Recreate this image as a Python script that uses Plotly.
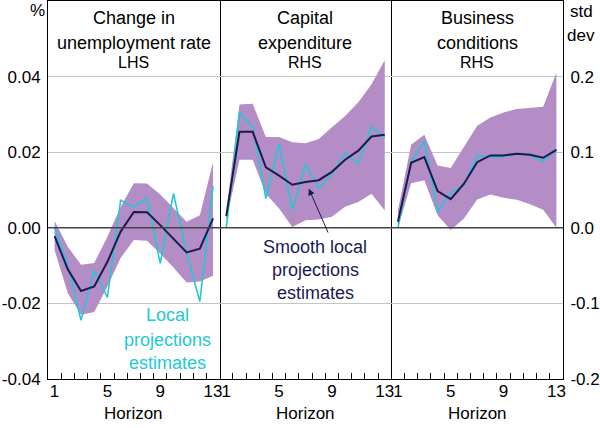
import plotly.graph_objects as go

horizon = list(range(1, 14))

# Panel 1: Change in unemployment rate (LHS, %)
unemp_smooth = [-0.0022, -0.011, -0.0167, -0.0155, -0.009, -0.001, 0.0042, 0.0041, 0.0007, -0.003, -0.0065, -0.0055, 0.0025]
unemp_local = [0.0, -0.010, -0.0245, -0.0113, -0.0184, 0.0073, 0.0055, 0.0078, -0.0094, 0.0091, -0.0067, -0.0195, 0.011]
unemp_upper = [0.0018, -0.005, -0.0098, -0.0093, -0.0024, 0.0055, 0.0118, 0.0117, 0.0088, 0.0053, 0.0016, 0.0033, 0.0174]
unemp_lower = [-0.0059, -0.0173, -0.023, -0.0223, -0.0155, -0.008, -0.0032, -0.0034, -0.0068, -0.0105, -0.0145, -0.0142, -0.0127]

# Panel 2: Capital expenditure (RHS, std dev)
capex_smooth = [0.0154, 0.127, 0.127, 0.080, 0.069, 0.057, 0.0605, 0.063, 0.074, 0.090, 0.102, 0.1207, 0.123]
capex_local = [0.0, 0.152, 0.134, 0.0387, 0.111, 0.024, 0.084, 0.052, 0.071, 0.0987, 0.085, 0.134, 0.12]
capex_upper = [0.022, 0.163, 0.164, 0.12, 0.12, 0.113, 0.112, 0.1176, 0.133, 0.148, 0.166, 0.19, 0.2215]
capex_lower = [0.01, 0.09, 0.09, 0.045, 0.0255, 0.001, 0.010, 0.011, 0.0145, 0.028, 0.034, 0.045, 0.023]

# Panel 3: Business conditions (RHS, std dev)
bus_smooth = [0.0079, 0.086, 0.0934, 0.0487, 0.0378, 0.0584, 0.0868, 0.0957, 0.0957, 0.098, 0.0965, 0.0926, 0.103]
bus_local = [0.0, 0.087, 0.1145, 0.021, 0.046, 0.056, 0.0957, 0.0934, 0.094, 0.099, 0.0957, 0.0878, 0.1045]
bus_upper = [0.023, 0.110, 0.123, 0.0825, 0.079, 0.1066, 0.135, 0.146, 0.1526, 0.157, 0.158, 0.16, 0.205]
bus_lower = [0.0, 0.059, 0.063, 0.0167, -0.003, 0.0124, 0.0374, 0.044, 0.0396, 0.037, 0.031, 0.024, 0.0]

panels = [
    (unemp_smooth, unemp_local, unemp_upper, unemp_lower),
    (capex_smooth, capex_local, capex_upper, capex_lower),
    (bus_smooth, bus_local, bus_upper, bus_lower),
]
titles = [("Change in", "unemployment rate", "LHS"),
          ("Capital", "expenditure", "RHS"),
          ("Business", "conditions", "RHS")]

lhs_ticks = [-0.04, -0.02, 0.0, 0.02, 0.04]
lhs_labels = ["-0.04", "-0.02", "0.00", "0.02", "0.04"]
rhs_ticks = [-0.2, -0.1, 0.0, 0.1, 0.2]
rhs_labels = ["-0.2", "-0.1", "0.0", "0.1", "0.2"]
x_label_vals = [1, 5, 9, 13]
x_tick_marks = [h + 0.5 for h in horizon[:-1]]

BAND = "#b48cc6"
NAVY = "#1c1a4f"
CYAN = "#22c8d6"
FONT = "Liberation Sans, Arial, sans-serif"

fig = go.Figure()
for i, (sm, lo, up, lw) in enumerate(panels):
    xa = "x" if i == 0 else f"x{i+1}"
    ya = "y" if i == 0 else f"y{i+1}"
    fig.add_trace(go.Scatter(x=horizon, y=lw, mode="lines", line=dict(width=0, color=BAND),
                             xaxis=xa, yaxis=ya, showlegend=False, hoverinfo="skip"))
    fig.add_trace(go.Scatter(x=horizon, y=up, mode="lines", line=dict(width=0, color=BAND),
                             fill="tonexty", fillcolor=BAND,
                             xaxis=xa, yaxis=ya, showlegend=False, hoverinfo="skip"))
    fig.add_trace(go.Scatter(x=horizon, y=lo, mode="lines", line=dict(width=1.6, color=CYAN),
                             xaxis=xa, yaxis=ya, showlegend=False))
    fig.add_trace(go.Scatter(x=horizon, y=sm, mode="lines", line=dict(width=2, color=NAVY),
                             xaxis=xa, yaxis=ya, showlegend=False))

layout = dict(
    width=600, height=428,
    margin=dict(l=48, r=37, t=1, b=49),
    plot_bgcolor="white", paper_bgcolor="white",
    font=dict(family=FONT, size=17, color="black"),
    showlegend=False,
)
doms = [[0, 1/3], [1/3, 2/3], [2/3, 1]]
for i in range(3):
    xk = "xaxis" if i == 0 else f"xaxis{i+1}"
    yk = "yaxis" if i == 0 else f"yaxis{i+1}"
    layout[xk] = dict(domain=doms[i], range=[0.5, 13.5], tickvals=x_label_vals,
                      ticktext=[str(v) for v in x_label_vals], ticks="",
                      minor=dict(tickvals=x_tick_marks, ticks="inside", ticklen=6,
                                 tickcolor="black", showgrid=False),
                      showgrid=False, zeroline=False, ticklabelstandoff=-3,
                      showline=True, linecolor="black", linewidth=1, mirror=True, automargin=False,
                      anchor="y" if i == 0 else f"y{i+1}", tickfont=dict(size=17))
    if i == 0:
        layout[yk] = dict(range=[-0.04, 0.06], tickvals=lhs_ticks, ticktext=lhs_labels,
                          anchor="x", side="left", mirror=True)
    else:
        layout[yk] = dict(range=[-0.2, 0.3], tickvals=rhs_ticks, ticktext=rhs_labels,
                          anchor=f"x{i+1}", side="right", showticklabels=(i == 2), mirror=False)
    layout[yk].update(showgrid=True, gridcolor="#c4c4c4", gridwidth=1,
                      zeroline=False, automargin=False,
                      showline=True, linecolor="black", linewidth=1,
                      ticks="", ticklabelstandoff=3, tickfont=dict(size=17))
fig.update_layout(**layout)

shapes = []
for i in range(3):
    xr = "x domain" if i == 0 else f"x{i+1} domain"
    yr = "y" if i == 0 else f"y{i+1}"
    shapes.append(dict(type="line", xref=xr, yref=yr, x0=0, x1=1, y0=0, y1=0,
                       line=dict(color="#444444", width=1.5), layer="above"))
fig.update_layout(shapes=shapes)

def py(pix):
    return (379 - pix) / 378

def txt(x, y, text, xref="paper", size=17, color="black"):
    return dict(x=x, y=y, xref=xref, yref="paper", text=text, showarrow=False,
                xanchor="center", yanchor="middle", font=dict(size=size, color=color))

annots = []
for i, (t1, t2, t3) in enumerate(titles):
    xr = "x" if i == 0 else f"x{i+1}"
    annots.append(txt(7, py(18), t1, xr, 18))
    annots.append(txt(7, py(43), t2, xr, 18))
    annots.append(txt(7, py(62), t3, xr, 16))
    annots.append(txt(7, py(413), "Horizon", xr, 17))

for t, yp in [("Local", 315), ("projections", 340), ("estimates", 363)]:
    annots.append(txt(9.55, py(yp), t, "x", 18, CYAN))
for t, yp in [("Smooth local", 247), ("projections", 270), ("estimates", 293)]:
    annots.append(txt(7.75, py(yp), t, "x2", 18, NAVY))
annots.append(dict(x=7.25, y=0.0518, xref="x2", yref="y2", ax=8.76, ay=-0.0083,
                   axref="x2", ayref="y2", text="", showarrow=True, arrowhead=2,
                   arrowsize=1.3, arrowwidth=1, arrowcolor=NAVY))
annots.append(txt((37.5 - 48) / 515, py(10), "%"))
annots.append(txt((581 - 48) / 515, py(11), "std"))
annots.append(txt((581 - 48) / 515, py(35), "dev"))
fig.update_layout(annotations=annots)

fig.write_html("out.html", config={"displayModeBar": False},
               post_script="document.body.style.margin='0';document.body.style.overflow='hidden';")
